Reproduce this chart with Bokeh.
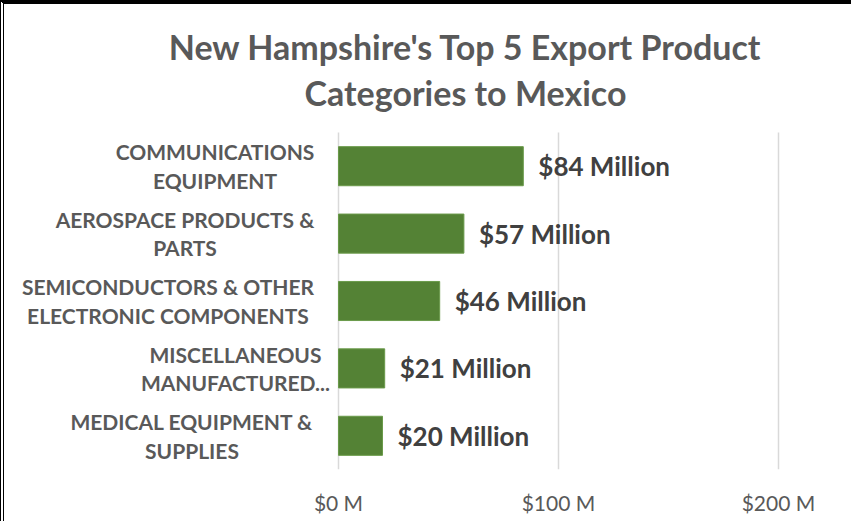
from bokeh.plotting import figure
from bokeh.models import Range1d, FixedTicker, ColumnDataSource
from bokeh.core.properties import value
from bokeh.embed import file_html
from bokeh.resources import INLINE

# ---- data ----
categories = ["Communications", "Aerospace", "Semiconductors", "Miscellaneous", "Medical"]
category_labels = [
    "COMMUNICATIONS\nEQUIPMENT",
    "AEROSPACE PRODUCTS &\nPARTS",
    "SEMICONDUCTORS & OTHER\nELECTRONIC COMPONENTS",
    "MISCELLANEOUS\nMANUFACTURED...",
    "MEDICAL EQUIPMENT &\nSUPPLIES",
]
values = [84, 57, 46, 21, 20]
value_labels = ["$84 Million", "$57 Million", "$46 Million", "$21 Million", "$20 Million"]
tick_values = [0, 100, 200]
tick_labels = ["$0 M", "$100 M", "$200 M"]
title_text = "New Hampshire's Top 5 Export Product\nCategories to Mexico"

# ---- layout / styling constants (page pixels) ----
FONT = "Lato"
BORDER = 4
W, H = 855 - BORDER, 525 - BORDER          # canvas size inside the border
PLOT_LEFT, PLOT_RIGHT = 338, 778           # page x of $0 M and $200 M
PLOT_TOP, PLOT_BOTTOM = 132, 469           # page y of the category band area
AXIS_H = 525 - PLOT_BOTTOM
px_x = (PLOT_RIGHT - PLOT_LEFT) / (tick_values[-1] - tick_values[0])
n = len(categories)
band_px = (PLOT_BOTTOM - PLOT_TOP) / n
label_centers_px = [214.5, 184.5, 167.5, 235, 191.5]   # page x of category label centres
title_center = (465, 69)                               # page x, y of the title block centre

x_start = -(PLOT_LEFT - BORDER) / px_x
x_end = (855 - PLOT_LEFT) / px_x
y_bottom = -0.5
y_top = y_bottom + (PLOT_BOTTOM - BORDER) / band_px

p = figure(
    width=W, height=H,
    x_range=Range1d(x_start, x_end), y_range=Range1d(y_bottom, y_top),
    output_backend="svg", toolbar_location=None,
    min_border_left=0, min_border_right=0, min_border_top=0, min_border_bottom=AXIS_H,
)
p.styles = {"border-top": f"{BORDER}px solid black", "border-left": f"{BORDER}px double black"}
p.outline_line_color = None
p.background_fill_color = "white"
p.border_fill_color = "white"
p.grid.visible = False
p.yaxis.visible = False

# vertical gridlines only across the category area
p.segment(x0=tick_values, x1=tick_values, y0=[-0.5] * len(tick_values),
          y1=[n - 0.5] * len(tick_values), line_color="#d9d9d9", line_width=1.5)

ypos = [n - 1 - i for i in range(n)]
src = ColumnDataSource(dict(y=ypos, val=values, lab=value_labels, txt=category_labels,
                            x0=[0] * n, xoff=[c - PLOT_LEFT for c in label_centers_px]))
p.hbar(y="y", right="val", left=0, height=0.58, source=src,
       fill_color="#548235", line_color="#6a9a4a", line_width=1)

# value labels
p.text(x="val", y="y", text="lab", source=src, x_offset=15,
       text_align="left", text_baseline="middle",
       text_font=value(FONT), text_font_style="bold",
       text_font_size="26px", text_color="#404040")

# category labels
p.text(x="x0", y="y", text="txt", x_offset="xoff", source=src,
       text_align="center", text_baseline="middle",
       text_font=value(FONT), text_font_style="bold", text_font_size="21px",
       text_color="#595959", text_line_height=1.15)

# title
p.text(x=[(title_center[0] - PLOT_LEFT) / px_x],
       y=[n - 0.5 + (PLOT_TOP - title_center[1]) / band_px],
       text=[title_text], text_align="center", text_baseline="middle",
       text_font=value(FONT), text_font_style="bold", text_font_size="34px",
       text_color="#595959", text_line_height=1.1)

# x axis
p.xaxis.ticker = FixedTicker(ticks=tick_values)
p.xaxis.major_label_overrides = {t: l for t, l in zip(tick_values, tick_labels)}
p.xaxis.axis_line_color = None
p.xaxis.major_tick_line_color = None
p.xaxis.minor_tick_line_color = None
p.xaxis.major_tick_out = 0
p.xaxis.major_tick_in = 0
p.xaxis.major_label_standoff = 20
p.xaxis.major_label_text_font = FONT
p.xaxis.major_label_text_font_size = "21px"
p.xaxis.major_label_text_color = "#595959"

open("out.html", "w").write(file_html(p, INLINE))
